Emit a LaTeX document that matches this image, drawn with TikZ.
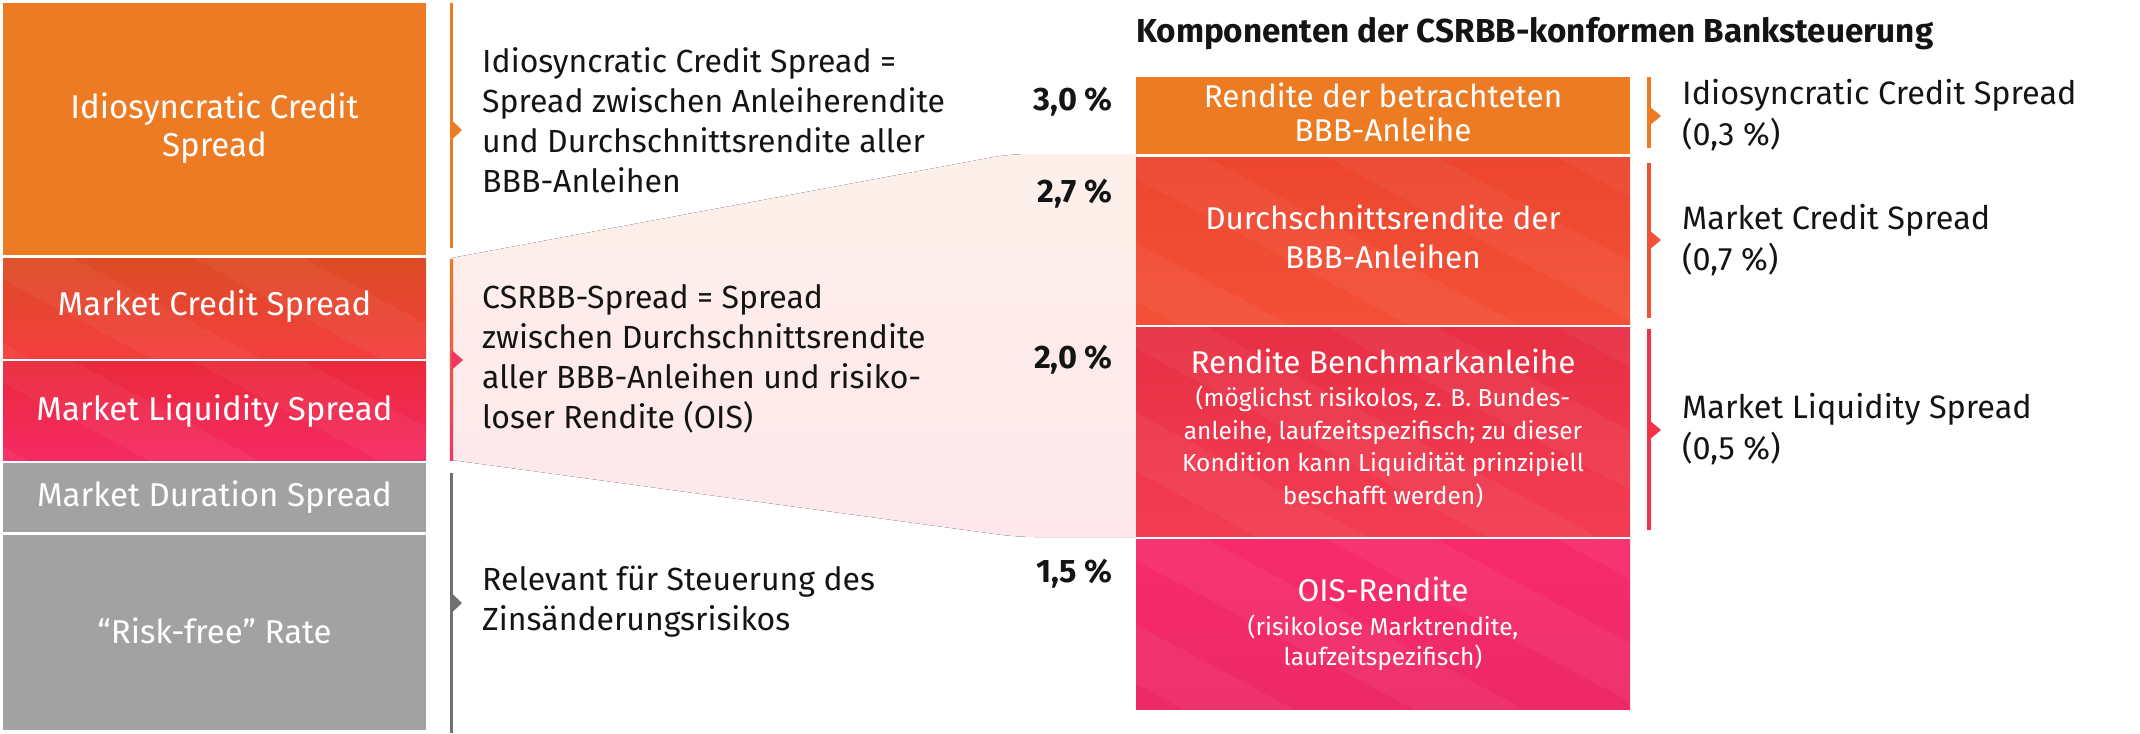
\documentclass[tikz,border=0pt]{standalone}
\usepackage{fontspec}
\setmainfont{Fira Sans}
\usetikzlibrary{calc}

\definecolor{corange}{RGB}{237,123,36}
\definecolor{credTop}{RGB}{220,76,36}
\definecolor{credBot}{RGB}{244,62,62}
\definecolor{liqTop}{RGB}{234,42,58}
\definecolor{liqBot}{RGB}{246,42,100}
\definecolor{cgray}{RGB}{162,162,162}
\definecolor{cgrayline}{RGB}{112,112,112}
\definecolor{rbredTop}{RGB}{236,70,46}
\definecolor{rbredBot}{RGB}{244,80,56}
\definecolor{rbredpink}{RGB}{242,50,72}
\definecolor{rbpink}{RGB}{247,43,108}
\definecolor{cpinkline}{RGB}{243,52,96}
\definecolor{credline}{RGB}{240,82,56}
\definecolor{trapTop}{RGB}{253,240,234}
\definecolor{trapBot}{RGB}{253,231,236}
\definecolor{ctext}{RGB}{20,20,20}

\begin{document}
\begin{tikzpicture}[x=1pt,y=-1pt,
  box/.style={rectangle,inner sep=0pt,outer sep=0pt,anchor=north west,draw=none},
  stripes/.style={path picture={
    \foreach \k in {0,...,5}{
      \fill[white,opacity=0.045] ($(path picture bounding box.north west)+(\k*230-500,0)$)
        -- ++(110,0) -- ++(560,300) -- ++(-110,0) -- cycle;
    }}},
  wlab/.style={text=white,font=\fontsize{33}{39}\selectfont,align=center,inner sep=0pt,anchor=base},
  rbig/.style={text=white,font=\fontsize{31.5}{33}\selectfont,align=center,inner sep=0pt,anchor=base},
  rsmall/.style={text=white,font=\fontsize{24.5}{32.5}\selectfont,align=center,inner sep=0pt,anchor=base},
  midtxt/.style={text=ctext,font=\fontsize{32}{40}\selectfont,align=left,inner sep=0pt,anchor=base west},
  pct/.style={text=ctext,font=\bfseries\fontsize{32.5}{38}\selectfont,inner sep=0pt,anchor=base east},
  rlab/.style={text=ctext,font=\fontsize{32.4}{40.5}\selectfont,align=left,inner sep=0pt,anchor=base west},
  bar/.style={line width=3.2pt},
]
\useasboundingbox (0,0) rectangle (2140,733);

% ---------- trapezoid connecting band ----------
\coordinate (tA) at (451.5,258);
\coordinate (tB) at (1010,154);
\coordinate (tC) at (1136,154);
\coordinate (tD) at (1136,537);
\coordinate (tE) at (1017,537);
\coordinate (tF) at (451.5,460);
\fill[top color=trapTop,bottom color=trapBot]
  (tA) [rounded corners=18pt] -- (tB) [sharp corners] -- (tC) -- (tD)
  [rounded corners=18pt] -- (tE) [sharp corners] -- (tF) -- cycle;

% ---------- left stack ----------
\node (idio) [box,fill=corange,minimum width=423pt,minimum height=252pt] at (3,3) {};
\node (mcs) [box,top color=credTop,bottom color=credBot,stripes,minimum width=423pt,minimum height=100pt] at (3,258) {};
\node (mls) [box,top color=liqTop,bottom color=liqBot,stripes,minimum width=423pt,minimum height=99pt] at (3,361) {};
\node (mds) [box,fill=cgray,minimum width=423pt,minimum height=69pt] at (3,463) {};
\node (rf) [box,fill=cgray,minimum width=423pt,minimum height=195pt] at (3,535) {};

% (multi-line nodes: anchor base = baseline of the last line)
\node (idiot) [wlab] at (214.5,157) {Idiosyncratic Credit\\Spread};
\node (mcst) [wlab] at (214.5,315) {Market Credit Spread};
\node (mlst) [wlab] at (214.5,420) {Market Liquidity Spread};
\node (mdst) [wlab] at (214.5,506) {Market Duration Spread};
\node (rft) [wlab] at (214.5,643) {“Risk-free” Rate};

% ---------- middle bracket lines ----------
\coordinate (m1t) at (451.5,3);   \coordinate (m1b) at (451.5,248);
\coordinate (m2t) at (451.5,259); \coordinate (m2b) at (451.5,460);
\coordinate (m3t) at (451.5,473); \coordinate (m3b) at (451.5,733);
\draw[bar,draw=corange] (m1t) -- (m1b);
\fill[corange] (451.5,120) -- (462,130) -- (451.5,140) -- cycle;
\shade[top color=corange,bottom color=cpinkline] ($(m2t)+(-1.6,0)$) rectangle ($(m2b)+(1.6,0)$);
\fill[cpinkline] (451.5,350) -- (463,360) -- (451.5,370) -- cycle;
\draw[bar,draw=cgrayline] (m3t) -- (m3b);
\fill[cgrayline] (451.5,593) -- (462,603) -- (451.5,613) -- cycle;

% ---------- middle texts ----------
\node (t1) [midtxt] at (482,192) {Idiosyncratic Credit Spread =\\Spread zwischen Anleiherendite\\und Durchschnittsrendite aller\\BBB-Anleihen};
\node (t2) [midtxt] at (482,428) {CSRBB-Spread = Spread\\zwischen Durchschnittsrendite\\aller BBB-Anleihen und risiko-\\loser Rendite (OIS)};
\node (t3) [midtxt] at (482,630) {Relevant für Steuerung des\\Zinsänderungsrisikos};

% ---------- percentages ----------
\node (p30) [pct] at (1113,111) {3,0 \%};
\node (p27) [pct] at (1113,202) {2,7 \%};
\node (p20) [pct] at (1113,368) {2,0 \%};
\node (p15) [pct] at (1113,582) {1,5 \%};

% ---------- title ----------
\node (title) [text=ctext,font=\bfseries\fontsize{33.2}{38}\selectfont,inner sep=0pt,anchor=base west] at (1136,43) {Komponenten der CSRBB-konformen Banksteuerung};

% ---------- right stack ----------
\node (rb1) [box,fill=corange,minimum width=494pt,minimum height=77pt] at (1136,77) {};
\node (rb2) [box,top color=rbredTop,bottom color=rbredBot,stripes,minimum width=494pt,minimum height=167pt] at (1136,157) {};
\node (rb3) [box,top color=rbredpink!96!black,bottom color=rbredpink!95!white,stripes,minimum width=494pt,minimum height=209pt] at (1136,327) {};
\node (rb4) [box,top color=rbpink,bottom color=rbpink!96!black,stripes,minimum width=494pt,minimum height=170pt] at (1136,539) {};

\node (rb1t) [rbig] at (1383,141) {Rendite der betrachteten\\BBB-Anleihe};
\node (rb2t) [rbig,font=\fontsize{31.5}{39}\selectfont] at (1383,268) {Durchschnittsrendite der\\BBB-Anleihen};
\node (rb3t) [rbig] at (1383,373) {Rendite Benchmarkanleihe};
\node (rb3s) [rsmall] at (1383,504) {(möglichst risikolos, z. B. Bundes-\\anleihe, laufzeitspezifisch; zu dieser\\Kondition kann Liquidität prinzipiell\\beschafft werden)};
\node (rb4t) [rbig] at (1383,601) {OIS-Rendite};
\node (rb4s) [rsmall,font=\fontsize{24.5}{30}\selectfont] at (1383,665) {(risikolose Marktrendite,\\laufzeitspezifisch)};

% ---------- right bracket lines ----------
\coordinate (r1t) at (1649,77);  \coordinate (r1b) at (1649,148);
\coordinate (r2t) at (1649,163); \coordinate (r2b) at (1649,318);
\coordinate (r3t) at (1649,329); \coordinate (r3b) at (1649,530);
\draw[bar,draw=corange] (r1t) -- (r1b);
\fill[corange] (1649,106) -- (1661,116) -- (1649,126) -- cycle;
\draw[bar,draw=credline] (r2t) -- (r2b);
\fill[credline] (1649,230) -- (1661,240) -- (1649,250) -- cycle;
\draw[bar,draw=rbredpink] (r3t) -- (r3b);
\fill[rbredpink] (1649,420) -- (1661,430) -- (1649,440) -- cycle;

\node (l1) [rlab] at (1682,145) {Idiosyncratic Credit Spread\\(0,3 \%)};
\node (l2) [rlab] at (1682,270) {Market Credit Spread\\(0,7 \%)};
\node (l3) [rlab] at (1682,459) {Market Liquidity Spread\\(0,5 \%)};
\end{tikzpicture}
\end{document}
